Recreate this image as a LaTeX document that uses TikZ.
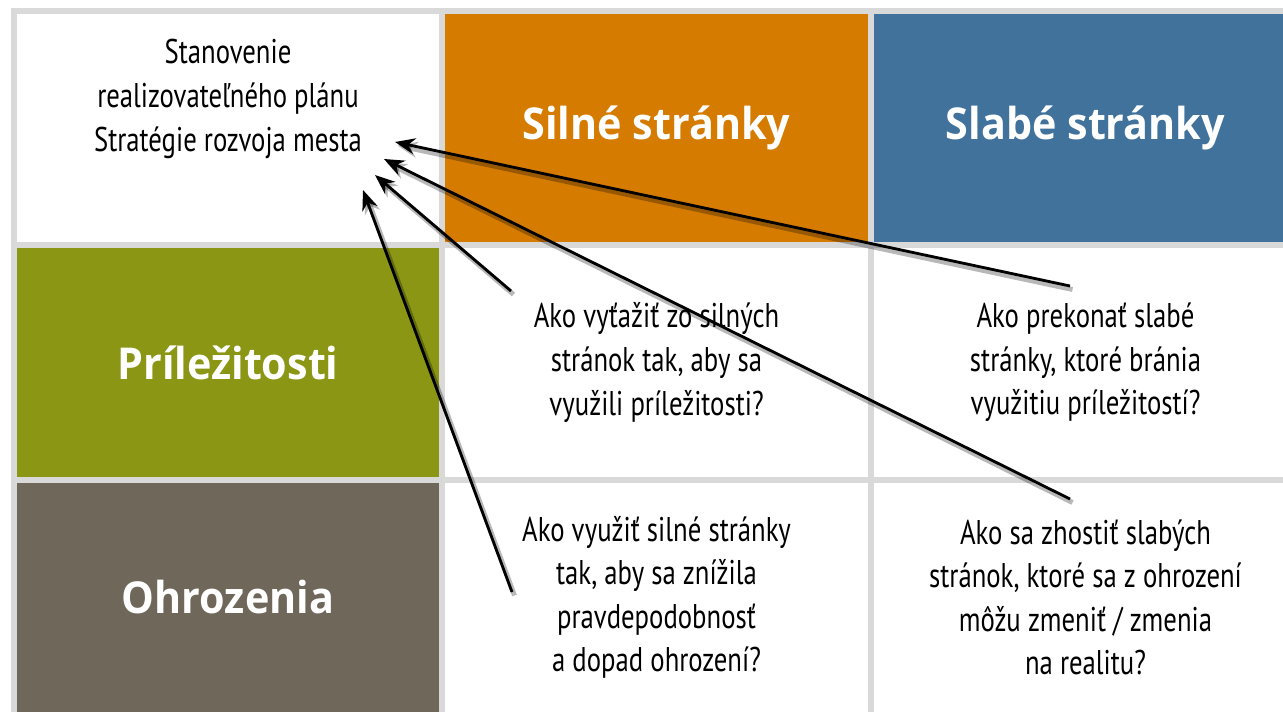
\documentclass[tikz,border=0pt]{standalone}
\usepackage{fontspec}
\setmainfont[FakeStretch=0.78]{PT Sans}
\newfontfamily\headfont[FakeStretch=0.94]{Open Sans}
\usetikzlibrary{arrows.meta}

\definecolor{gridgray}{HTML}{D9D9D9}
\definecolor{strongcol}{HTML}{D47B00}
\definecolor{weakcol}{HTML}{41729B}
\definecolor{oppcol}{HTML}{8A9614}
\definecolor{threatcol}{HTML}{6F675A}

\begin{document}
\begin{tikzpicture}[x=0.02cm,y=-0.02cm,
      cell/.style={minimum width=8.46cm,minimum height=4.58cm,inner sep=0pt,align=center},
      head/.style={cell,text=white,font=\headfont\bfseries\fontsize{25}{30}\selectfont},
      ask/.style={cell,fill=white,font=\fontsize{19.5}{24.8}\selectfont},
      pointer/.style={-{Stealth[length=0.4cm,width=0.32cm]},line width=1.6pt,
        preaction={draw=black,opacity=0.28,line width=2.8pt,transform canvas={shift={(0.05cm,-0.07cm)}}}}]

      \clip (0,0) rectangle (1283,712);
      \fill[gridgray] (11,8) rectangle (1300,720);

      \node[cell,fill=white] (plan) at (228,128) {};
      \node[font=\fontsize{19.5}{24.8}\selectfont,align=center] (goal) at (228,99)
        {Stanovenie\\realizovateľného plánu\\Stratégie rozvoja mesta};

      \foreach \n/\x/\y/\c/\l in {S/656.5/128/strongcol/Silné stránky,
                                  W/1085.5/128/weakcol/Slabé stránky,
                                  O/228/362.5/oppcol/Príležitosti,
                                  T/228/597.5/threatcol/Ohrozenia} {
        \node[head,fill=\c] (\n) at (\x,\y) {\l};
      }

      \node[ask] (SO) at (656.5,362.5) {Ako vyťažiť zo silných\\stránok tak, aby sa\\využili príležitosti?};
      \node[ask] (WO) at (1085.5,362.5) {Ako prekonať slabé\\stránky, ktoré bránia\\využitiu príležitostí?};
      \node[ask] (ST) at (656.5,597.5) {Ako využiť silné stránky\\tak, aby sa znížila\\pravdepodobnosť\\a dopad ohrození?};
      \node[ask] (WT) at (1085.5,597.5) {Ako sa zhostiť slabých\\stránok, ktoré sa z ohrození\\môžu zmeniť / zmenia\\na realitu?};

      \foreach \n/\x/\y in {tWO/1070/286, tWT/1070/499, tSO/511/291, tST/512/592,
                            hWO/395/142, hWT/384/159, hSO/375/175, hST/363/190}
        \coordinate (\n) at (\x,\y);

      \foreach \k in {WO,WT,SO,ST}
        \draw[pointer] (t\k) -- (h\k);

    \end{tikzpicture}
\end{document}
